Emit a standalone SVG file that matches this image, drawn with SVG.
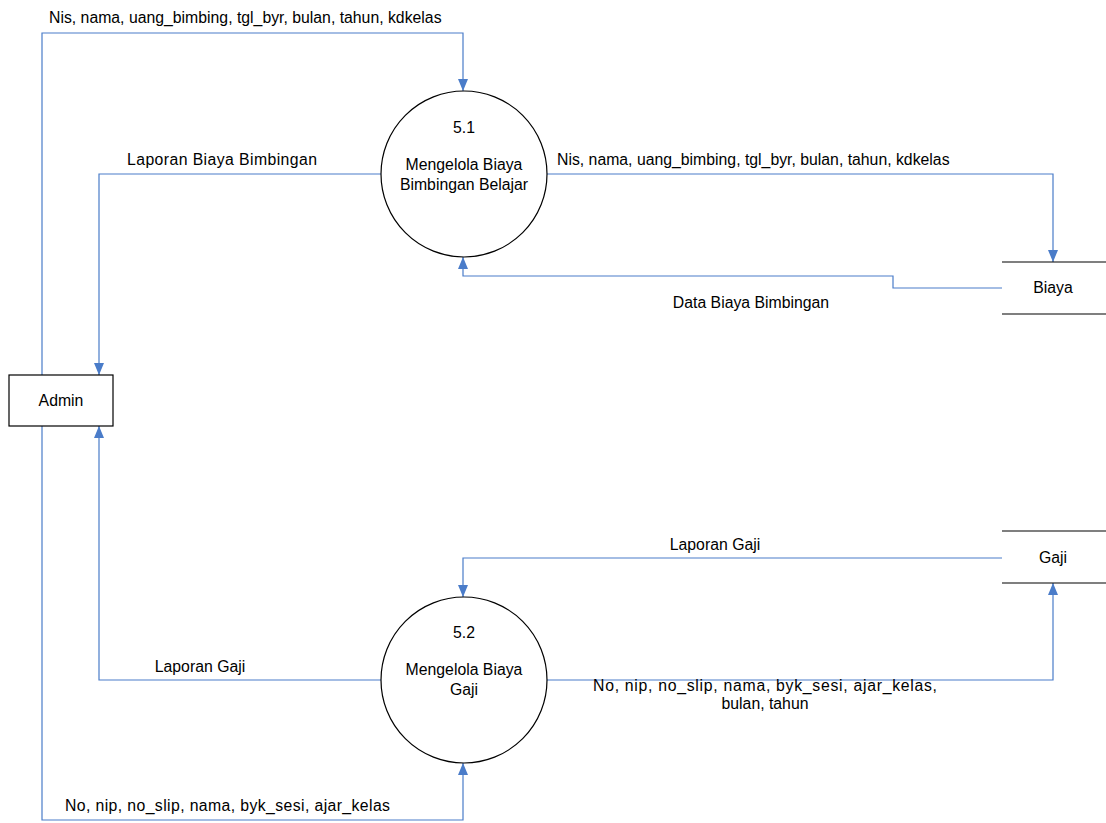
<svg xmlns="http://www.w3.org/2000/svg" width="1106" height="823" viewBox="0 0 1106 823">
<defs>
<style>
text{font-family:"Liberation Sans",Arial,sans-serif;font-size:15.8px;fill:#000}
.c{fill:none;stroke:#4a7cc9;stroke-width:1.2}
.n{fill:#fff;stroke:#000;stroke-width:1.2}
.s{stroke:#000;stroke-width:1.2}
</style>
<marker id="a" viewBox="0 0 12 12" refX="12" refY="6" markerWidth="12" markerHeight="12" markerUnits="userSpaceOnUse" orient="auto">
<path d="M0,1 L12,6 L0,11 Z" fill="#4a7cc9"/>
</marker>
</defs>
<rect width="1106" height="823" fill="#fff"/>
<g id="connectors">
<path class="c" d="M42,375 V33 H463 V91" marker-end="url(#a)"/>
<path class="c" d="M382,174 H99 V375" marker-end="url(#a)"/>
<path class="c" d="M546,174 H1053 V262" marker-end="url(#a)"/>
<path class="c" d="M1002,288 H893 V276 H463 V257" marker-end="url(#a)"/>
<path class="c" d="M1002,558 H463 V597" marker-end="url(#a)"/>
<path class="c" d="M381,680 H99 V426" marker-end="url(#a)"/>
<path class="c" d="M546,680 H1053 V583" marker-end="url(#a)"/>
<path class="c" d="M42,426 V820 H463 V763" marker-end="url(#a)"/>
<text x="49" y="23">Nis, nama, uang_bimbing, tgl_byr, bulan, tahun, kdkelas</text>
<text x="127" y="165" textLength="190">Laporan Biaya Bimbingan</text>
<text x="557" y="165">Nis, nama, uang_bimbing, tgl_byr, bulan, tahun, kdkelas</text>
<text x="751" y="308" text-anchor="middle">Data Biaya Bimbingan</text>
<text x="715" y="550" text-anchor="middle">Laporan Gaji</text>
<text x="200" y="672" text-anchor="middle">Laporan Gaji</text>
<text x="593" y="691" textLength="344">No, nip, no_slip, nama, byk_sesi, ajar_kelas,</text>
<text x="765" y="709" text-anchor="middle">bulan, tahun</text>
<text x="65" y="811" textLength="325">No, nip, no_slip, nama, byk_sesi, ajar_kelas</text>
</g>
<g id="p51">
<circle class="n" cx="464" cy="174" r="83"/>
<text x="464" y="133" text-anchor="middle">5.1</text>
<text x="464" y="170" text-anchor="middle">Mengelola Biaya</text>
<text x="464" y="190" text-anchor="middle">Bimbingan Belajar</text>
</g>
<g id="p52">
<circle class="n" cx="464" cy="680" r="83"/>
<text x="464" y="638" text-anchor="middle">5.2</text>
<text x="464" y="675" text-anchor="middle">Mengelola Biaya</text>
<text x="464" y="695" text-anchor="middle">Gaji</text>
</g>
<g id="admin">
<rect class="n" x="9" y="375" width="104" height="51"/>
<text x="61" y="406" text-anchor="middle">Admin</text>
</g>
<g id="biaya">
<line class="s" x1="1002" y1="262" x2="1106" y2="262"/>
<line class="s" x1="1002" y1="314" x2="1106" y2="314"/>
<text x="1053" y="293" text-anchor="middle">Biaya</text>
</g>
<g id="gaji">
<line class="s" x1="1002" y1="531" x2="1106" y2="531"/>
<line class="s" x1="1002" y1="583" x2="1106" y2="583"/>
<text x="1053" y="563" text-anchor="middle">Gaji</text>
</g>
</svg>
